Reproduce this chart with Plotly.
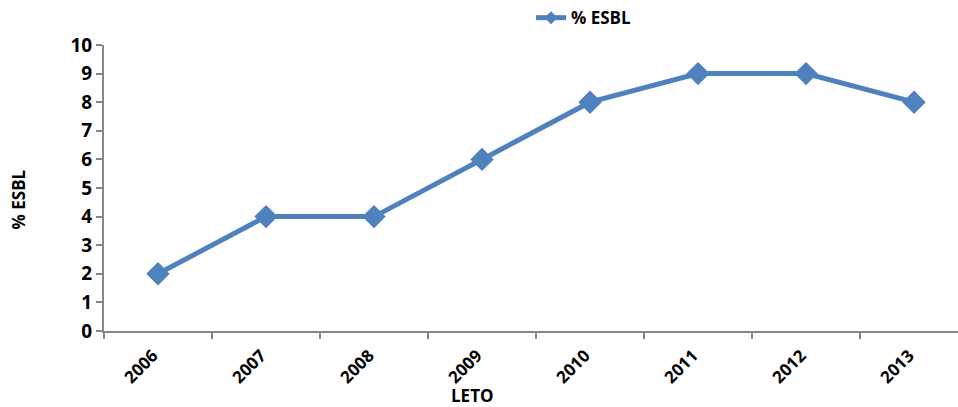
import plotly.graph_objects as go

# Share of ESBL-producing isolates by year
years = ["2006", "2007", "2008", "2009", "2010", "2011", "2012", "2013"]
esbl_pct = [2, 4, 4, 6, 8, 9, 9, 8]
y_ticks = list(range(0, 11))

LINE_COLOR = "#4F81BD"
AXIS_COLOR = "#868686"
FONT = "Open Sans"

fig = go.Figure()
fig.add_trace(go.Scatter(
    x=years,
    y=esbl_pct,
    mode="lines+markers",
    name="<b>% ESBL</b>",
    showlegend=False,
    line=dict(color=LINE_COLOR, width=5),
    marker=dict(symbol="diamond", size=18, color=LINE_COLOR),
    cliponaxis=False,
))
# Legend key with a smaller diamond than the plotted markers
fig.add_trace(go.Scatter(
    x=[None],
    y=[None],
    mode="lines+markers",
    name="<b>% ESBL</b>",
    line=dict(color=LINE_COLOR, width=5),
    marker=dict(symbol="diamond", size=10, color=LINE_COLOR),
))

fig.update_layout(
    width=958,
    height=407,
    margin=dict(l=104, r=0, t=45, b=76),
    plot_bgcolor="white",
    paper_bgcolor="white",
    font=dict(family=FONT, color="black", size=17),
    showlegend=True,
    legend=dict(
        orientation="h",
        x=0.5, y=1.094, xanchor="left", yanchor="middle",
        font=dict(family=FONT, size=17, color="black"),
        bgcolor="rgba(0,0,0,0)",
        itemwidth=30,
    ),
    xaxis=dict(
        type="category",
        range=[-0.5, 7.407],
        showgrid=False,
        showline=True,
        linecolor=AXIS_COLOR,
        linewidth=2,
        ticks="outside",
        tickson="boundaries",
        ticklen=6,
        tickwidth=2,
        tickcolor=AXIS_COLOR,
        tickangle=-45,
        ticklabelstandoff=6,
        ticklabelshift=-5,
        tickfont=dict(family=FONT, size=17, weight="bold"),
        zeroline=False,
    ),
    yaxis=dict(
        range=[0, 10],
        tickvals=y_ticks,
        showgrid=False,
        showline=True,
        linecolor=AXIS_COLOR,
        linewidth=2,
        ticks="outside",
        ticklen=6,
        tickwidth=2,
        tickcolor=AXIS_COLOR,
        tickfont=dict(family=FONT, size=19, weight="bold"),
        zeroline=False,
    ),
    annotations=[
        dict(text="<b>% ESBL</b>", xref="paper", yref="paper",
             x=-0.1007, y=0.46, textangle=-90, showarrow=False,
             font=dict(family=FONT, size=17, color="black"),
             xanchor="center", yanchor="middle"),
        dict(text="<b>LETO</b>", xref="paper", yref="paper",
             x=0.431, y=-0.225, showarrow=False,
             font=dict(family=FONT, size=17, color="black"),
             xanchor="center", yanchor="middle"),
    ],
)

fig.write_html("out.html")
